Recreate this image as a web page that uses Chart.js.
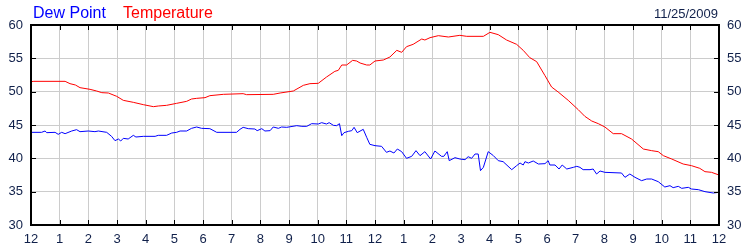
<!DOCTYPE html>
<html>
<head>
<meta charset="utf-8">
<script src="https://cdn.jsdelivr.net/npm/chart.js@4/dist/chart.umd.min.js"></script>
<style>
  html, body { margin: 0; padding: 0; background: #ffffff; }
  #wrap { position: relative; width: 750px; height: 250px; }
</style>
</head>
<body>
<div id="wrap"><canvas id="c" width="750" height="250"></canvas></div>
<script>
// ---- data (hours since midnight, degrees F) ----
const dateLabel = "11/25/2009";
const seriesNames = ["Dew Point", "Temperature"];
const hourLabels = ["12","1","2","3","4","5","6","7","8","9","10","11","12","1","2","3","4","5","6","7","8","9","10","11","12"];
const yTicks = [30, 35, 40, 45, 50, 55, 60];

const tempHours = [0,0.1,1.19,1.36,1.55,1.71,2.06,2.29,2.47,2.7,2.99,3.22,3.57,3.92,4.27,4.44,4.73,5.08,5.43,5.6,5.78,6.07,6.24,6.71,7.4,7.52,8.45,8.69,9.15,9.5,9.73,10.02,10.31,10.6,10.72,10.84,11.01,11.22,11.36,11.48,11.71,11.82,12.0,12.29,12.52,12.76,12.93,13.1,13.33,13.63,13.74,13.92,14.21,14.56,14.96,15.2,15.78,16.01,16.3,16.59,16.94,17.17,17.4,17.64,17.93,18.16,18.39,18.74,19.09,19.32,19.56,19.79,20.02,20.31,20.6,20.95,21.36,21.65,21.88,22.06,22.35,22.75,23.04,23.33,23.51,23.74,24.0];
const tempValues = [51.5,51.55,51.55,51.2,51.0,50.6,50.35,50.1,49.85,49.8,49.3,48.7,48.4,48.05,47.75,47.85,47.95,48.25,48.55,48.9,49.0,49.1,49.4,49.6,49.7,49.55,49.6,49.8,50.1,50.95,51.2,51.25,52.2,53.05,53.2,54.0,54.0,54.7,54.6,54.3,54.0,54.0,54.6,54.75,55.2,56.2,55.9,56.75,57.1,57.9,57.75,58.1,58.4,58.2,58.45,58.3,58.3,58.9,58.55,57.75,57.1,56.2,55.1,54.5,52.4,50.7,49.95,48.7,47.3,46.3,45.6,45.2,44.7,43.7,43.7,42.9,41.4,41.15,41.0,40.4,39.9,39.15,38.9,38.5,38.0,37.9,37.5];

const dewHours = [0,0.37,0.49,0.55,0.84,0.95,1.07,1.19,1.42,1.59,1.71,2.0,2.23,2.35,2.64,2.81,2.93,3.05,3.13,3.22,3.39,3.57,3.66,3.92,4.33,4.44,4.73,4.91,5.08,5.2,5.43,5.6,5.78,5.95,6.24,6.48,7.17,7.29,7.4,7.58,7.81,7.89,8.05,8.16,8.34,8.45,8.63,8.74,8.92,9.27,9.45,9.62,9.79,10.02,10.14,10.31,10.4,10.55,10.66,10.76,10.84,10.92,11.07,11.19,11.27,11.38,11.59,11.71,11.82,12.0,12.23,12.4,12.52,12.66,12.78,12.93,13.1,13.28,13.43,13.57,13.74,13.94,14.09,14.32,14.4,14.52,14.59,14.79,14.96,15.14,15.25,15.37,15.49,15.6,15.68,15.78,15.95,16.13,16.3,16.47,16.77,16.94,17.06,17.17,17.23,17.35,17.52,17.7,17.93,18.04,18.1,18.28,18.42,18.53,18.69,18.92,19.04,19.15,19.26,19.5,19.61,19.73,19.85,20.02,20.6,20.72,20.89,21.07,21.3,21.48,21.65,21.88,22.11,22.29,22.4,22.58,22.7,22.93,23.04,23.28,23.51,23.8,24.0];
const dewValues = [43.9,43.9,44.1,43.85,43.9,43.6,43.9,43.7,44.1,44.3,44.0,44.1,44.0,44.1,43.9,43.3,42.65,42.9,42.6,43.0,42.9,43.45,43.2,43.3,43.3,43.45,43.45,43.8,43.9,44.1,44.1,44.5,44.7,44.5,44.45,43.9,43.9,44.35,44.65,44.45,44.4,44.15,44.45,44.1,44.15,44.7,44.5,44.7,44.65,44.9,44.8,44.8,45.2,45.15,45.35,45.15,45.35,44.95,44.9,45.2,43.4,43.85,44.05,44.15,44.65,43.85,44.35,43.15,42.1,41.9,41.8,40.9,41.1,40.8,41.4,41.0,40.0,40.3,41.15,40.4,41.0,39.9,41.1,40.3,40.3,41.0,39.65,40.1,39.9,39.8,40.25,40.0,40.65,40.65,38.15,38.65,41.0,40.4,39.65,39.5,38.3,38.9,39.3,39.0,39.5,39.3,39.6,39.15,39.2,39.65,39.0,39.0,38.4,39.0,38.4,38.65,38.8,38.65,38.3,38.3,38.4,37.65,38.1,37.9,37.8,37.15,37.65,37.15,36.65,36.9,36.9,36.5,35.7,35.9,35.6,35.8,35.5,35.65,35.4,35.3,35.0,34.8,34.9];

// ---- styling ----
const labelColor = '#10204a';
const tickFont = { family: 'Liberation Sans, Arial, sans-serif', size: 13 };

const frame = {
  id: 'frame',
  afterDraw(chart) {
    const ctx = chart.ctx;
    const a = chart.chartArea;
    const xs = chart.scales.x, ys = chart.scales.y;
    ctx.save();
    ctx.strokeStyle = '#000000';
    ctx.lineWidth = 1;
    ctx.beginPath();
    for (let h = 0; h < hourLabels.length; h++) {
      const px = Math.round(xs.getPixelForValue(h)) + 0.5;
      ctx.moveTo(px, a.bottom); ctx.lineTo(px, a.bottom - 5);
      ctx.moveTo(px, a.top); ctx.lineTo(px, a.top + 5);
    }
    yTicks.forEach(v => {
      const py = Math.round(ys.getPixelForValue(v)) + 0.5;
      ctx.moveTo(a.left, py); ctx.lineTo(a.left + 5, py);
      ctx.moveTo(a.right, py); ctx.lineTo(a.right - 5, py);
    });
    ctx.stroke();
    ctx.lineWidth = 2;
    ctx.strokeRect(Math.round(a.left), Math.round(a.top), Math.round(a.right - a.left), Math.round(a.bottom - a.top));
    // header texts
    ctx.textBaseline = 'alphabetic';
    ctx.font = '16px "Liberation Sans", Arial, sans-serif';
    ctx.textAlign = 'left';
    ctx.fillStyle = '#0000ff';
    ctx.fillText(seriesNames[0], 33, 17.5);
    ctx.fillStyle = '#ff0000';
    ctx.fillText(seriesNames[1], 123, 17.5);
    ctx.font = '13px "Liberation Sans", Arial, sans-serif';
    ctx.fillStyle = labelColor;
    ctx.textAlign = 'right';
    ctx.fillText(dateLabel, 718, 17.5);
    ctx.restore();
  }
};

const yScaleBase = (pos) => ({
  type: 'linear',
  position: pos,
  min: yTicks[0],
  max: yTicks[yTicks.length - 1],
  afterBuildTicks(s) { s.ticks = yTicks.map(v => ({ value: v })); },
  afterFit(s) { s.width = 31; },
  ticks: { color: labelColor, font: tickFont, padding: 8 },
  grid: { color: '#cccccc', lineWidth: 1, drawTicks: false, display: pos === 'left' },
  border: { display: false }
});

new Chart(document.getElementById('c'), {
  type: 'line',
  data: {
    datasets: [
      {
        label: seriesNames[0],
        data: dewHours.map((h, i) => ({ x: h, y: dewValues[i] })),
        borderColor: '#0000ff',
        borderWidth: 1,
        pointRadius: 0,
        tension: 0,
        fill: false,
        yAxisID: 'y'
      },
      {
        label: seriesNames[1],
        data: tempHours.map((h, i) => ({ x: h, y: tempValues[i] })),
        borderColor: '#ff0000',
        borderWidth: 1,
        pointRadius: 0,
        tension: 0,
        fill: false,
        yAxisID: 'y'
      }
    ]
  },
  options: {
    responsive: false,
    animation: false,
    events: [],
    layout: { padding: { top: 25, left: 0, right: 0, bottom: 0 } },
    plugins: { legend: { display: false }, title: { display: false }, tooltip: { enabled: false } },
    scales: {
      x: {
        type: 'linear',
        min: 0,
        max: 24,
        afterBuildTicks(s) { s.ticks = hourLabels.map((_, i) => ({ value: i })); },
        afterFit(s) { s.height = 25; },
        ticks: {
          color: labelColor,
          font: tickFont,
          padding: 7,
          autoSkip: false,
          maxRotation: 0,
          callback: (v) => hourLabels[v]
        },
        grid: { color: '#cccccc', lineWidth: 1, drawTicks: false },
        border: { display: false }
      },
      y: yScaleBase('left'),
      y2: yScaleBase('right')
    }
  },
  plugins: [frame]
});
</script>
</body>
</html>
